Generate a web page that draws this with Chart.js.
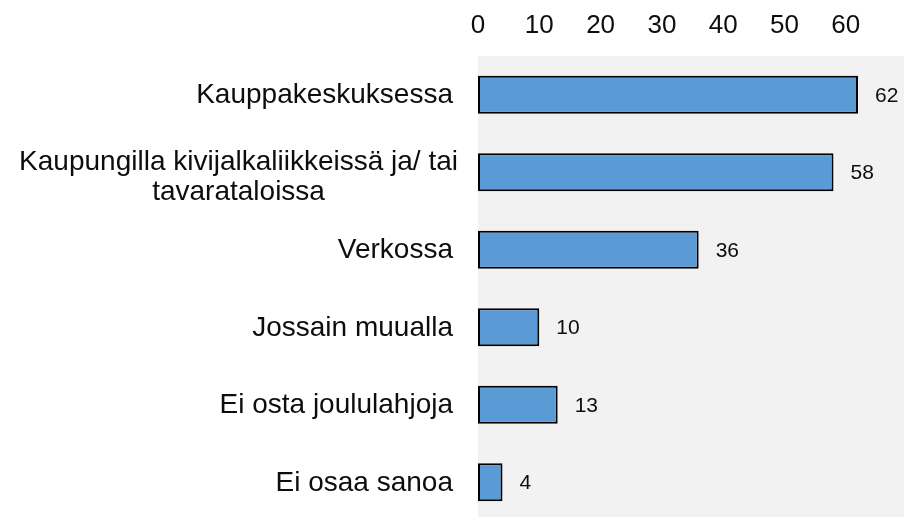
<!DOCTYPE html>
<html><head><meta charset="utf-8">
<script src="https://cdn.jsdelivr.net/npm/chart.js@4/dist/chart.umd.min.js"></script>
<style>html,body{margin:0;padding:0;background:#fff;overflow:hidden}#wrap{width:904px;height:521px;position:relative}</style>
</head><body><div id="wrap"><canvas id="c"></canvas></div>
<script>
const categories = [
  ["Kauppakeskuksessa"],
  ["Kaupungilla kivijalkaliikkeissä ja/ tai", "tavarataloissa"],
  ["Verkossa"],
  ["Jossain muualla"],
  ["Ei osta joululahjoja"],
  ["Ei osaa sanoa"]
];
const values = [62, 58, 36, 10, 13, 4];
const xTicks = [0, 10, 20, 30, 40, 50, 60];

const FONT = '"Liberation Sans", Arial, sans-serif';

const bgPlugin = {
  id: 'bg',
  beforeDraw(chart) {
    const a = chart.chartArea, ctx = chart.ctx;
    ctx.save();
    ctx.fillStyle = '#f2f2f2';
    ctx.fillRect(a.left, a.top, a.right - a.left, a.bottom - a.top);
    ctx.restore();
  }
};

const labelPlugin = {
  id: 'labels',
  afterDraw(chart) {
    const ctx = chart.ctx;
    const yScale = chart.scales.y;
    const meta = chart.getDatasetMeta(0);
    ctx.save();
    ctx.fillStyle = '#0d0d0d';
    // category labels
    ctx.font = '28px ' + FONT;
    ctx.textBaseline = 'middle';
    chart.data.labels.forEach((lines, i) => {
      const yc = yScale.getPixelForTick(i) + 1;
      const lh = 30;
      if (lines.length === 1) {
        ctx.textAlign = 'right';
        ctx.fillText(lines[0], 453, yc);
      } else {
        const widest = Math.max(...lines.map(l => ctx.measureText(l).width));
        const cx = 458 - widest / 2;
        ctx.textAlign = 'center';
        const y0 = yc - (lines.length - 1) * lh / 2 + 4;
        lines.forEach((l, k) => ctx.fillText(l, cx, y0 + k * lh));
      }
    });
    // value labels
    ctx.font = '21px ' + FONT;
    ctx.textAlign = 'left';
    meta.data.forEach((bar, i) => {
      ctx.fillText(String(chart.data.datasets[0].data[i]), bar.x + 17, bar.y + 1);
    });
    ctx.restore();
  }
};

new Chart(document.getElementById('c'), {
  type: 'bar',
  data: {
    labels: categories,
    datasets: [{
      data: values,
      backgroundColor: '#5b9bd5',
      borderColor: '#000000',
      borderWidth: 2,
      borderSkipped: false,
      barPercentage: 0.49,
      categoryPercentage: 1
    }]
  },
  options: {
    indexAxis: 'y',
    responsive: true,
    maintainAspectRatio: false,
    animation: false,
    layout: { padding: 0 },
    plugins: { legend: { display: false }, tooltip: { enabled: false }, title: { display: false } },
    scales: {
      x: {
        position: 'top',
        min: 0,
        max: 69.5,
        afterBuildTicks(scale) { scale.ticks = xTicks.map(v => ({ value: v })); },
        afterFit(scale) { scale.height = 56; },
        grid: { display: false, drawTicks: false },
        border: { display: false },
        ticks: { color: '#0d0d0d', font: { family: FONT, size: 26 }, padding: 15, maxRotation: 0 }
      },
      y: {
        afterFit(scale) { scale.width = 478; },
        grid: { display: false, drawTicks: false },
        border: { display: false },
        ticks: { display: false }
      }
    }
  },
  plugins: [bgPlugin, labelPlugin]
});
</script>
</body></html>
